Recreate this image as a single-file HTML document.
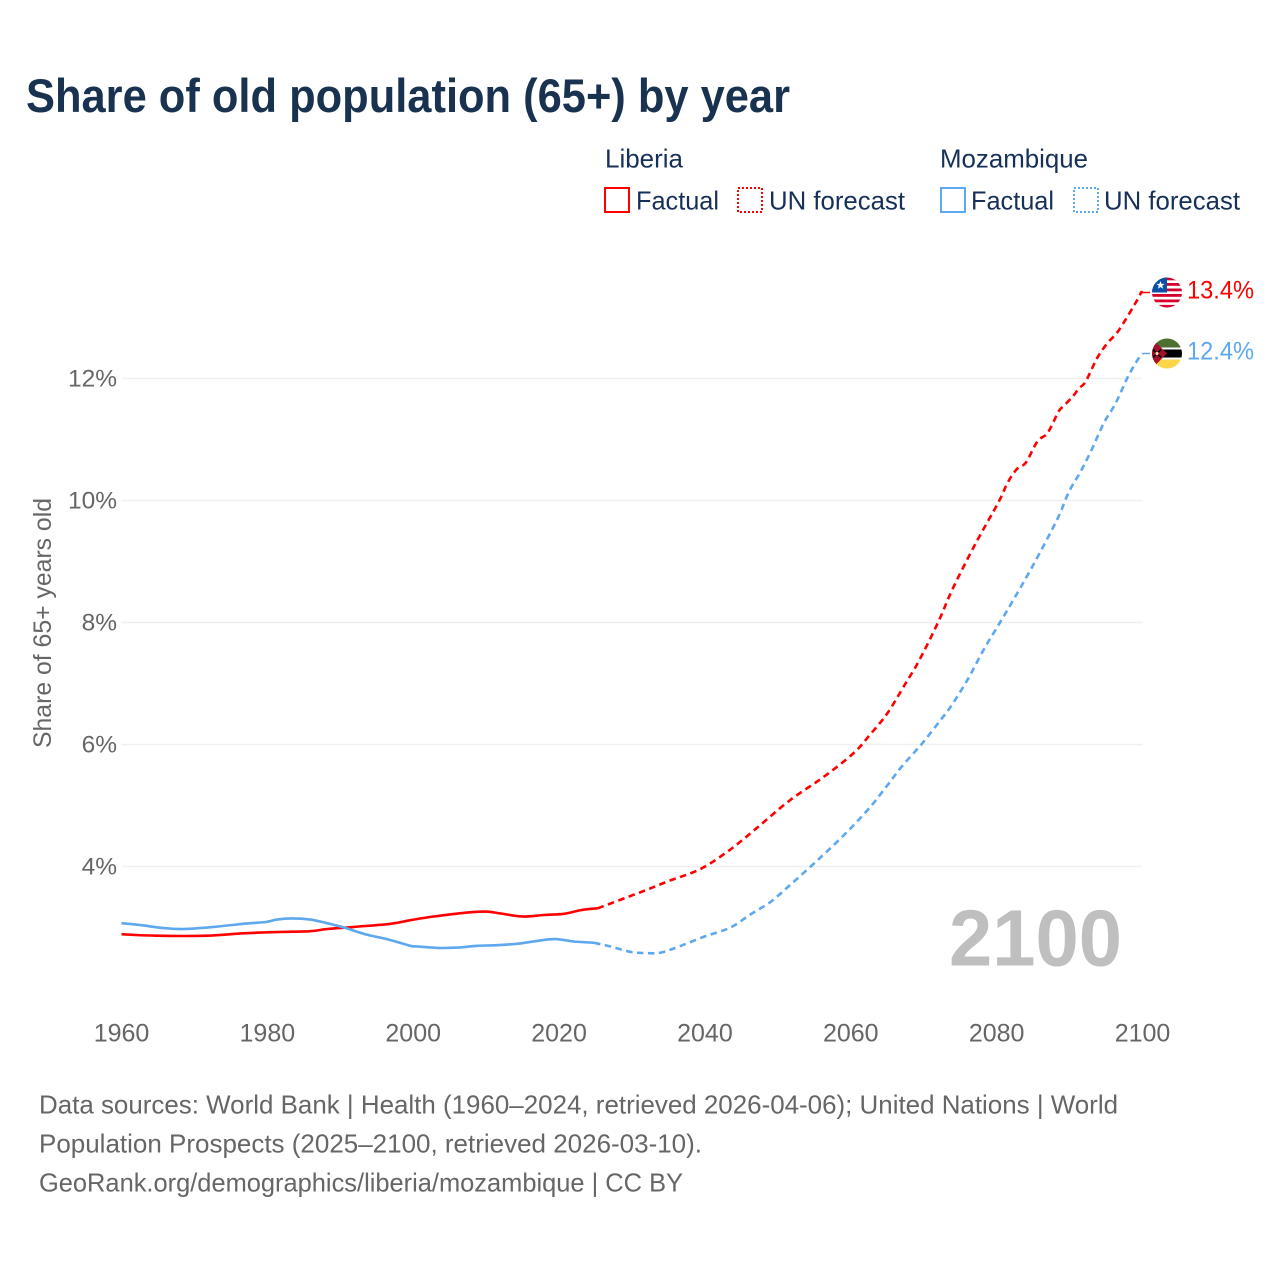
<!DOCTYPE html>
<html lang="en">
<head>
<meta charset="utf-8">
<title>Share of old population (65+) by year</title>
<style>
html,body{margin:0;padding:0;background:#fff}
svg{display:block;font-family:"Liberation Sans",sans-serif}
</style>
</head>
<body>
<svg id="chart" width="1280" height="1280" viewBox="0 0 1280 1280" xmlns="http://www.w3.org/2000/svg">
  <defs>
    <clipPath id="flag-clip"><circle cx="0" cy="0" r="15"></circle></clipPath>
  </defs>
  <rect x="0" y="0" width="1280" height="1280" fill="#ffffff"></rect>
  <text x="26" y="112" font-size="47" font-weight="700" fill="#18324f" textLength="764" lengthAdjust="spacingAndGlyphs">Share of old population (65+) by year</text>

  <g font-size="26" fill="#17305a">
    <text x="605" y="167.5" textLength="78" lengthAdjust="spacingAndGlyphs">Liberia</text>
    <rect x="605" y="188" width="24" height="24" fill="none" stroke="#ff0000" stroke-width="2"></rect>
    <text x="636" y="209.5" textLength="83" lengthAdjust="spacingAndGlyphs">Factual</text>
    <rect x="738" y="188" width="24" height="24" fill="none" stroke="#ff0000" stroke-width="2" stroke-dasharray="2 2"></rect>
    <text x="769" y="209.5" textLength="136" lengthAdjust="spacingAndGlyphs">UN forecast</text>
    <text x="940" y="167.5" textLength="148" lengthAdjust="spacingAndGlyphs">Mozambique</text>
    <rect x="941" y="188" width="24" height="24" fill="none" stroke="#5da8ee" stroke-width="2"></rect>
    <text x="971" y="209.5" textLength="83" lengthAdjust="spacingAndGlyphs">Factual</text>
    <rect x="1074" y="188" width="24" height="24" fill="none" stroke="#5da8ee" stroke-width="2" stroke-dasharray="2 2"></rect>
    <text x="1104" y="209.5" textLength="136" lengthAdjust="spacingAndGlyphs">UN forecast</text>
  </g>

  <g id="grid"></g>
  <g id="y-ticks"></g>
  <g id="x-ticks"></g>
  <text transform="translate(51,748) rotate(-90)" x="0" y="0" font-size="25" fill="#666666" textLength="250" lengthAdjust="spacingAndGlyphs">Share of 65+ years old</text>

  <text x="949" y="965.5" font-size="80" font-weight="700" fill="#bfbfbf" textLength="173" lengthAdjust="spacingAndGlyphs">2100</text>

  <g id="series"></g>

  <g id="flag-liberia">
    <g clip-path="url(#flag-clip)">
      <rect x="-15" y="-15" width="30" height="30" fill="#ffffff"></rect>
      <rect x="-15" y="-15" width="30" height="2.8" fill="#d6002a"></rect>
      <rect x="-15" y="-9.5" width="30" height="2.8" fill="#d6002a"></rect>
      <rect x="-15" y="-4" width="30" height="2.8" fill="#d6002a"></rect>
      <rect x="-15" y="1.5" width="30" height="2.8" fill="#d6002a"></rect>
      <rect x="-15" y="7" width="30" height="2.8" fill="#d6002a"></rect>
      <rect x="-15" y="12.4" width="30" height="2.8" fill="#d6002a"></rect>
      <rect x="-15" y="-15" width="15" height="15" fill="#0a50a8"></rect>
      <polygon points="-6.5,-11.5 -5.4,-8.6 -2.4,-8.6 -4.8,-6.7 -3.9,-3.8 -6.5,-5.5 -9.1,-3.8 -8.2,-6.7 -10.6,-8.6 -7.6,-8.6" fill="#ffffff"></polygon>
    </g>
  </g>
  <g id="flag-mozambique">
    <g clip-path="url(#flag-clip)">
      <rect x="-15" y="-15" width="30" height="30" fill="#ffffff"></rect>
      <rect x="-15" y="-15" width="30" height="9" fill="#4d7030"></rect>
      <rect x="-15" y="-4" width="30" height="8" fill="#000000"></rect>
      <rect x="-15" y="6" width="30" height="9" fill="#fdd548"></rect>
      <polygon points="-15,-15 0,0 -15,15" fill="#a5102e"></polygon>
      <path d="M-14,-4 L-6,4 M-6,-4 L-14,4" stroke="#000000" stroke-width="1.6"></path>
      <circle cx="-10" cy="0" r="1.6" fill="#e8d9a0"></circle>
    </g>
  </g>
  <text id="label-liberia" x="1187" font-size="25" fill="#ff0000" textLength="67" lengthAdjust="spacingAndGlyphs"></text>
  <text id="label-mozambique" x="1187" font-size="25" fill="#5da8ee" textLength="67" lengthAdjust="spacingAndGlyphs"></text>

  <g font-size="26" fill="#666666">
    <text x="39" y="1113.5" textLength="1079" lengthAdjust="spacingAndGlyphs">Data sources: World Bank | Health (1960–2024, retrieved 2026-04-06); United Nations | World</text>
    <text x="39" y="1152.5" textLength="663" lengthAdjust="spacingAndGlyphs">Population Prospects (2025–2100, retrieved 2026-03-10).</text>
    <text x="39" y="1191.5" textLength="644" lengthAdjust="spacingAndGlyphs">GeoRank.org/demographics/liberia/mozambique | CC BY</text>
  </g>
</svg>

<script>
const xTickYears = [1960, 1980, 2000, 2020, 2040, 2060, 2080, 2100];
const yTickValues = [4, 6, 8, 10, 12];

const liberiaFactualYears = [1960, 1964.8, 1971.7, 1976.7, 1981.3, 1985.9, 1988.2, 1991.9, 1996.9, 1999.6, 2002.8, 2006.9, 2009.9, 2012, 2015, 2017.9, 2020.7, 2023, 2025.3];
const liberiaFactualValues = [2.89, 2.865, 2.865, 2.905, 2.925, 2.94, 2.975, 3.01, 3.06, 3.12, 3.18, 3.24, 3.26, 3.23, 3.18, 3.205, 3.225, 3.285, 3.315];

const liberiaForecastYears = [2025.3, 2031.2, 2035, 2039.4, 2043.5, 2047.2, 2051.7, 2056.3, 2060.4, 2062.7, 2065, 2067.5, 2069.3, 2072, 2074, 2077, 2080.2, 2081.5, 2082.8, 2084, 2085.6, 2087, 2088.5, 2089.2, 2090.4, 2091.3, 2092.2, 2093.8, 2095.2, 2096.8, 2099.3, 2099.8, 2100];
const liberiaForecastValues = [3.315, 3.58, 3.76, 3.96, 4.28, 4.64, 5.09, 5.47, 5.86, 6.17, 6.51, 7.0, 7.36, 8.01, 8.56, 9.27, 9.96, 10.29, 10.52, 10.62, 10.97, 11.11, 11.46, 11.55, 11.70, 11.84, 11.95, 12.34, 12.58, 12.8, 13.29, 13.41, 13.41];

const mozambiqueFactualYears = [1960, 1962.6, 1965.8, 1968.5, 1972.6, 1976.7, 1979.8, 1981.3, 1983.4, 1985.9, 1988.2, 1990.5, 1993.7, 1996.4, 1999.6, 2000.5, 2003.3, 2006, 2008.8, 2011.5, 2014.7, 2017, 2019.5, 2022, 2024.8];
const mozambiqueFactualValues = [3.07, 3.04, 2.99, 2.975, 3.01, 3.06, 3.09, 3.13, 3.15, 3.13, 3.07, 3.0, 2.88, 2.81, 2.70, 2.69, 2.665, 2.67, 2.70, 2.71, 2.74, 2.78, 2.81, 2.77, 2.75];

const mozambiqueForecastYears = [2024.8, 2027, 2029.8, 2032, 2034, 2036.7, 2039.9, 2043.5, 2046.3, 2049, 2051.7, 2054.5, 2057.2, 2060, 2062.7, 2065, 2067, 2069.8, 2072.3, 2073.7, 2076, 2078.2, 2080.1, 2081.9, 2085, 2088.3, 2089.9, 2091.5, 2092.9, 2094.7, 2096.3, 2098, 2099.3, 2100];
const mozambiqueForecastValues = [2.75, 2.69, 2.60, 2.58, 2.59, 2.70, 2.85, 3.0, 3.22, 3.42, 3.70, 4.0, 4.30, 4.63, 4.98, 5.33, 5.64, 6.02, 6.40, 6.62, 7.06, 7.55, 7.93, 8.29, 8.94, 9.69, 10.14, 10.47, 10.80, 11.27, 11.59, 12.03, 12.30, 12.41];

const SVG_NS = 'http://www.w3.org/2000/svg';
function xScale(year) { return 121.5 + (year - 1960) * (1021 / 140); }
function yScale(value) { return 866.5 - (value - 4) * 61; }

function smoothPath(years, values) {
  const xs = years.map(xScale);
  const ys = values.map(yScale);
  let d = 'M' + xs[0].toFixed(1) + ' ' + ys[0].toFixed(1);
  for (let i = 0; i < xs.length - 1; i++) {
    const a = Math.max(i - 1, 0);
    const b = Math.min(i + 2, xs.length - 1);
    const c1x = xs[i] + (xs[i + 1] - xs[a]) / 6;
    const c1y = ys[i] + (ys[i + 1] - ys[a]) / 6;
    const c2x = xs[i + 1] - (xs[b] - xs[i]) / 6;
    const c2y = ys[i + 1] - (ys[b] - ys[i]) / 6;
    d += ' C' + c1x.toFixed(1) + ' ' + c1y.toFixed(1) + ' ' + c2x.toFixed(1) + ' ' + c2y.toFixed(1) + ' ' + xs[i + 1].toFixed(1) + ' ' + ys[i + 1].toFixed(1);
  }
  return d;
}

const gridGroup = document.getElementById('grid');
const yTickGroup = document.getElementById('y-ticks');
yTickValues.forEach(function (value) {
  const line = document.createElementNS(SVG_NS, 'line');
  
  
  line.setAttribute('x1', xScale(1960));
  line.setAttribute('x2', xScale(2100));
  line.setAttribute('y1', yScale(value));
  line.setAttribute('y2', yScale(value));
  line.setAttribute('stroke', '#efefef');
  line.setAttribute('stroke-width', 1.6);
  gridGroup.appendChild(line);

  const label = document.createElementNS(SVG_NS, 'text');
  
  
  label.setAttribute('x', 117);
  label.setAttribute('y', yScale(value) + 8);
  label.setAttribute('text-anchor', 'end');
  label.setAttribute('font-size', 24.5);
  label.setAttribute('fill', '#666666');
  label.textContent = value + '%';
  yTickGroup.appendChild(label);
});

const xTickGroup = document.getElementById('x-ticks');
xTickYears.forEach(function (year) {
  const label = document.createElementNS(SVG_NS, 'text');
  
  
  label.setAttribute('x', xScale(year));
  label.setAttribute('y', 1041.5);
  label.setAttribute('text-anchor', 'middle');
  label.setAttribute('font-size', 25);
  label.setAttribute('fill', '#666666');
  label.textContent = String(year);
  xTickGroup.appendChild(label);
});

const seriesGroup = document.getElementById('series');
function drawSeries(name, years, values, color, dash) {
  const line = document.createElementNS(SVG_NS, 'path');
  
  
  line.setAttribute('d', smoothPath(years, values));
  line.setAttribute('fill', 'none');
  line.setAttribute('stroke', color);
  line.setAttribute('stroke-width', 2.6);
  line.setAttribute('stroke-linejoin', 'round');
  if (dash) { line.setAttribute('stroke-dasharray', dash); }
  seriesGroup.appendChild(line);
}
drawSeries('liberia-forecast-line', liberiaForecastYears, liberiaForecastValues, '#ff0000', '6.5 4.5');
drawSeries('mozambique-forecast-line', mozambiqueForecastYears, mozambiqueForecastValues, '#5da8ee', '6.5 4.5');
drawSeries('liberia-factual-line', liberiaFactualYears, liberiaFactualValues, '#ff0000', null);
drawSeries('mozambique-factual-line', mozambiqueFactualYears, mozambiqueFactualValues, '#5da8ee', null);

function placeEnd(flagId, labelId, values, color, connectorName) {
  const last = values[values.length - 1];
  const yEnd = yScale(last);
  document.getElementById(flagId).setAttribute('transform', 'translate(1167,' + yEnd.toFixed(1) + ')');
  const label = document.getElementById(labelId);
  label.setAttribute('y', (yEnd + 6).toFixed(1));
  label.textContent = last.toFixed(1) + '%';
  const connector = document.createElementNS(SVG_NS, 'line');
  
  
  connector.setAttribute('x1', xScale(2100));
  connector.setAttribute('x2', 1150);
  connector.setAttribute('y1', yEnd);
  connector.setAttribute('y2', yEnd);
  connector.setAttribute('stroke', color);
  connector.setAttribute('stroke-width', 1.5);
  seriesGroup.appendChild(connector);
}
placeEnd('flag-liberia', 'label-liberia', liberiaForecastValues, '#ff0000', 'liberia-label-connector');
placeEnd('flag-mozambique', 'label-mozambique', mozambiqueForecastValues, '#5da8ee', 'mozambique-label-connector');
</script>
</body>
</html>
